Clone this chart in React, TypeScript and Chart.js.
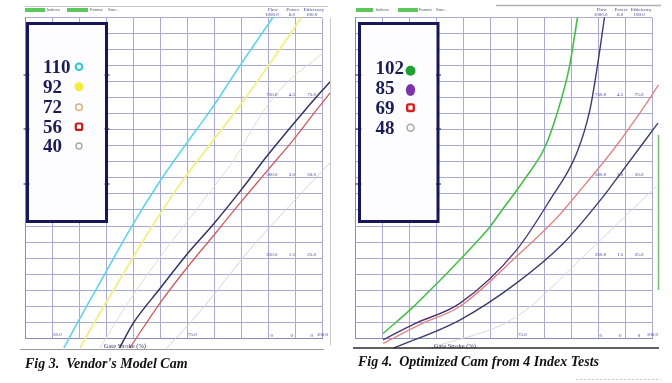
import React, { useEffect, useRef } from "react";
import { Chart, registerables } from "chart.js";
Chart.register(...registerables);

type Pt = [number, number];

// ---------------- shared axis / scale labels ----------------
const scaleHeaders = ["Flow", "Power", "Efficiency"];
const flowLabels = ["1000.0", "750.0", "500.0", "250.0", "0"];
const powerLabels = ["6.0", "4.5", "3.0", "1.5", "0"];
const efficiencyLabels = ["100.0", "75.0", "50.0", "25.0", "0"];
const labelRowValues = [1000, 750, 500, 250, 0];
const axisTitle = "Gate Stroke (%)";

// ---------------- Fig 3: vendor's model cam ----------------
const vendorLegend = ["110", "92", "72", "56", "40"];
const vendorStrokeLabels = ["50.0", "75.0", "100.0"];
const vendorStrokeValues = [50, 75, 100];
const vendorCam110: Pt[] = [[52.2, -30], [54.7, 48], [59.9, 204], [64.9, 353], [69.8, 485], [74.8, 605], [79.4, 712], [85, 855], [90.9, 1000]];
const vendorCam92: Pt[] = [[55.2, -30], [57.8, 48], [63.3, 204], [68.7, 353], [73.9, 485], [79.3, 605], [84.2, 712], [90, 848], [96.2, 1000]];
const vendorCam72: Pt[] = [[58.9, -30], [64.4, 119], [70.7, 269], [77.4, 416], [83.9, 562], [88.1, 681], [92.2, 775], [100.2, 890]];
const vendorCamMain: Pt[] = [[62.5, -30], [65, 46], [70, 155], [75, 262], [80, 358], [85, 462], [90, 572], [96.85, 711], [101.5, 800]];
const vendorCam56: Pt[] = [[64.4, -30], [70, 110], [75, 220], [80, 322], [85, 425], [90, 525], [95, 625], [99, 712], [101.5, 765]];
const vendorCam40: Pt[] = [[71.3, -30], [78, 95], [86.1, 266], [93, 395], [101.5, 547]];

// ---------------- Fig 4: optimized cam ----------------
const optLegend = ["102", "85", "69", "48"];
const optStrokeLabels = ["75.0", "100.0"];
const optStrokeValues = [75, 100];
const optCam102: Pt[] = [[50.2, 15], [55.8, 98], [59.5, 160], [62, 202], [67.5, 300], [70, 348], [72.2, 399], [76.5, 498], [80.2, 597], [82.6, 711], [84.7, 846], [86.2, 1000]];
const optCam85: Pt[] = [[50.2, -5], [56, 45], [64.4, 109], [74.9, 275], [81.1, 431], [86.05, 577], [88.5, 712], [89.9, 850], [91.2, 1000]];
const optCam69: Pt[] = [[50.2, -16], [57.3, 45], [64.4, 99], [74.9, 255], [82.35, 375], [85.9, 445], [93.3, 598], [98.4, 718], [101.2, 790]];
const optCamMain: Pt[] = [[52.1, -31], [64.4, 57], [74.9, 172], [83.6, 296], [90.4, 430], [93.3, 494], [101.1, 671]];
const optCam48: Pt[] = [[58.9, -31], [74.9, 67], [87.3, 255], [95.3, 385], [100.8, 473]];

interface Series { data: Pt[]; color: string; width: number; smooth: boolean }
interface Marker { kind: "ring" | "dot" | "ellipse" | "square"; color: string; r: number; lw: number; y: number }
interface PanelCfg {
  series: Series[];
  legend: string[];
  markers: Marker[];
  box: { x: number; y: number; w: number; h: number };
  textX: number;
  baselines: number[];
  markerX: number;
  columnsX: number[];
  strokeLabels: string[];
  strokeValues: number[];
  caption: string;
  captionX: number;
  captionY: number;
  padding: { left: number; right: number; top: number; bottom: number };
  decorate: (ctx: CanvasRenderingContext2D) => void;
}

const GRID = "#a9a9d2";
const LABEL = "#3d3d88";
const NAVY = "#16165a";

function drawTabs(ctx: CanvasRenderingContext2D, tabs: [number, number][], texts: [string, number][]) {
  ctx.fillStyle = "#5cc85c";
  tabs.forEach(([x, w]) => ctx.fillRect(x, 8, w, 4));
  ctx.fillStyle = "#555";
  ctx.font = "4px 'Liberation Sans'";
  ctx.textBaseline = "middle";
  ctx.textAlign = "left";
  texts.forEach(([t, x]) => ctx.fillText(t, x, 10));
}

function overlay(p: PanelCfg) {
  return {
    id: "overlay",
    afterDraw(chart: any) {
      const ctx: CanvasRenderingContext2D = chart.ctx;
      const xs = chart.scales.x;
      const ys = chart.scales.y;
      const { top, bottom, right } = chart.chartArea;
      ctx.save();
      // value columns
      ctx.fillStyle = LABEL;
      ctx.font = "5px 'Liberation Serif'";
      ctx.textAlign = "center";
      ctx.textBaseline = "bottom";
      const cols = [flowLabels, powerLabels, efficiencyLabels];
      cols.forEach((labels, c) => {
        const cx = xs.getPixelForValue(p.columnsX[c]);
        labels.forEach((t, r) => ctx.fillText(t, cx, ys.getPixelForValue(labelRowValues[r]) - 0.5));
        ctx.fillText(scaleHeaders[c], cx + (c === 2 ? 2 : 1), top - 5);
      });
      // stroke labels
      p.strokeLabels.forEach((t, i) => {
        const v = p.strokeValues[i];
        const px = xs.getPixelForValue(v);
        ctx.textAlign = v === 100 ? "right" : "left";
        ctx.fillText(t, v === 100 ? right + 6 : px + 1, bottom - 1);
      });
      ctx.textAlign = "center";
      ctx.fillStyle = "#333366";
      ctx.font = "6.5px 'Liberation Serif'";
      ctx.textBaseline = "alphabetic";
      ctx.fillText(axisTitle, xs.getPixelForValue(63.5), bottom + 9.5);

      // legend box
      const b = p.box;
      ctx.fillStyle = "#fdfdff";
      ctx.fillRect(b.x, b.y, b.w, b.h);
      ctx.strokeStyle = NAVY;
      ctx.lineWidth = 3;
      ctx.strokeRect(b.x, b.y, b.w, b.h);
      ctx.lineWidth = 1;
      [75, 129, 184].forEach((ty) => {
        ctx.beginPath();
        ctx.moveTo(b.x - 4, ty);
        ctx.lineTo(b.x + 2, ty);
        ctx.moveTo(b.x + b.w - 2, ty);
        ctx.lineTo(b.x + b.w + 3, ty);
        ctx.stroke();
      });
      ctx.fillStyle = "#1c1c55";
      ctx.font = "bold 19px 'Liberation Serif'";
      ctx.textAlign = "left";
      p.legend.forEach((t, i) => ctx.fillText(t, p.textX, p.baselines[i]));
      p.markers.forEach((m) => {
        ctx.beginPath();
        if (m.kind === "ellipse") ctx.ellipse(p.markerX, m.y, m.r * 0.78, m.r, 0, 0, Math.PI * 2);
        else if (m.kind === "square") ctx.roundRect(p.markerX - m.r, m.y - m.r, m.r * 2, m.r * 2, 1.5);
        else ctx.arc(p.markerX, m.y, m.r, 0, Math.PI * 2);
        if (m.kind === "dot" || m.kind === "ellipse") {
          ctx.fillStyle = m.color;
          ctx.fill();
        } else {
          ctx.strokeStyle = m.color;
          ctx.lineWidth = m.lw;
          ctx.stroke();
        }
      });

      // caption
      ctx.fillStyle = "#111";
      ctx.font = "italic bold 14px 'Liberation Serif'";
      ctx.textAlign = "left";
      ctx.fillText(p.caption, p.captionX, p.captionY);
      p.decorate(ctx);
      ctx.restore();
    },
  };
}

const leftPanel: PanelCfg = {
  series: [
    { data: vendorCam110, color: "#5fd6e8", width: 1.6, smooth: true },
    { data: vendorCam92, color: "#f3f08a", width: 2, smooth: true },
    { data: vendorCam72, color: "#e6dcc4", width: 1, smooth: true },
    { data: vendorCamMain, color: "#34345e", width: 1.5, smooth: true },
    { data: vendorCam56, color: "#d25a5a", width: 1.3, smooth: true },
    { data: vendorCam40, color: "#d4d4d4", width: 1, smooth: true },
  ],
  legend: vendorLegend,
  markers: [
    { kind: "ring", color: "#25c8d8", r: 3.3, lw: 2, y: 66.7 },
    { kind: "dot", color: "#f2ee3a", r: 4.5, lw: 0, y: 86.7 },
    { kind: "ring", color: "#d4b27a", r: 3.3, lw: 1.5, y: 107.3 },
    { kind: "square", color: "#cc1a1a", r: 3.2, lw: 2.2, y: 126.7 },
    { kind: "ring", color: "#a8a8a8", r: 3, lw: 1.4, y: 146 },
  ],
  box: { x: 27.5, y: 23.5, w: 79, h: 198 },
  textX: 43,
  baselines: [73, 93, 113, 133, 152],
  markerX: 79,
  columnsX: [90.7, 94.4, 98.1],
  strokeLabels: vendorStrokeLabels,
  strokeValues: vendorStrokeValues,
  caption: "Fig 3.  Vendor's Model Cam",
  captionX: 25,
  captionY: 368,
  padding: { left: 25, right: 14, top: 17.5, bottom: 44.7 },
  decorate: (ctx) => {
    ctx.strokeStyle = "#c8c8c8";
    ctx.lineWidth = 1;
    ctx.beginPath();
    ctx.moveTo(25, 6.5);
    ctx.lineTo(328, 6.5);
    ctx.moveTo(330.5, 18);
    ctx.lineTo(330.5, 345);
    ctx.stroke();
    ctx.strokeStyle = "#9a9a9a";
    ctx.beginPath();
    ctx.moveTo(20, 349.5);
    ctx.lineTo(324, 349.5);
    ctx.stroke();
    drawTabs(ctx, [[25, 20], [67, 21]], [["Indices", 47], ["Format", 90], ["Size...", 108]]);
  },
};

const rightPanel: PanelCfg = {
  series: [
    { data: optCam102, color: "#45c045", width: 1.6, smooth: true },
    { data: optCam85, color: "#4d3570", width: 1.4, smooth: true },
    { data: optCam69, color: "#e38585", width: 1.4, smooth: true },
    { data: optCamMain, color: "#3d3d6b", width: 1.4, smooth: true },
    { data: optCam48, color: "#d8d8d8", width: 1, smooth: true },
  ],
  legend: optLegend,
  markers: [
    { kind: "dot", color: "#1fa22f", r: 5, lw: 0, y: 70.7 },
    { kind: "ellipse", color: "#7a35a8", r: 6, lw: 0, y: 90 },
    { kind: "square", color: "#d42020", r: 3.3, lw: 2.4, y: 107.7 },
    { kind: "ring", color: "#a8a8a8", r: 3.5, lw: 1.5, y: 127.7 },
  ],
  box: { x: 23.5, y: 23.5, w: 78.5, h: 198 },
  textX: 39.5,
  baselines: [74, 94, 113.5, 133.5],
  markerX: 74.5,
  columnsX: [90.5, 94.1, 97.6],
  strokeLabels: optStrokeLabels,
  strokeValues: optStrokeValues,
  caption: "Fig 4.  Optimized Cam from 4 Index Tests",
  captionX: 22,
  captionY: 366,
  padding: { left: 19, right: 20, top: 17.5, bottom: 44.7 },
  decorate: (ctx) => {
    ctx.strokeStyle = "#b0b0b0";
    ctx.lineWidth = 1.5;
    ctx.beginPath();
    ctx.moveTo(160, 5.5);
    ctx.lineTo(325, 5.5);
    ctx.stroke();
    ctx.strokeStyle = "#2a2a2a";
    ctx.lineWidth = 1.6;
    ctx.beginPath();
    ctx.moveTo(17, 348);
    ctx.lineTo(323, 348);
    ctx.stroke();
    ctx.strokeStyle = "#6cc46c";
    ctx.lineWidth = 1.5;
    ctx.beginPath();
    ctx.moveTo(322.5, 135);
    ctx.lineTo(322.5, 290);
    ctx.stroke();
    ctx.strokeStyle = "#c8c8c8";
    ctx.lineWidth = 1;
    ctx.setLineDash([2, 2]);
    ctx.beginPath();
    ctx.moveTo(240, 379.5);
    ctx.lineTo(325, 379.5);
    ctx.stroke();
    ctx.setLineDash([]);
    drawTabs(ctx, [[20, 17], [62, 20]], [["Indices", 40], ["Format", 83], ["Size...", 100]]);
  },
};

function buildChart(canvas: HTMLCanvasElement, p: PanelCfg) {
  return new Chart(canvas, {
    type: "line",
    data: {
      datasets: p.series.map((s) => ({
        data: s.data.map(([x, y]) => ({ x, y })),
        borderColor: s.color,
        borderWidth: s.width,
        pointRadius: 0,
        fill: false,
        tension: 0,
        cubicInterpolationMode: s.smooth ? "monotone" : "default",
        clip: false,
      })),
    },
    options: {
      animation: false,
      responsive: false,
      maintainAspectRatio: false,
      events: [],
      layout: { padding: p.padding, autoPadding: false },
      plugins: { legend: { display: false }, tooltip: { enabled: false } },
      scales: {
        x: {
          type: "linear",
          min: 45,
          max: 100,
          ticks: { display: false, stepSize: 5, maxTicksLimit: 100 },
          grid: { color: GRID, lineWidth: 1, drawTicks: false },
          border: { color: "#8a8ab8", width: 1 },
        },
        y: {
          type: "linear",
          min: 0,
          max: 1000,
          ticks: { display: false, stepSize: 50, maxTicksLimit: 100 },
          grid: { color: GRID, lineWidth: 1, drawTicks: false },
          border: { color: "#8a8ab8", width: 1 },
        },
      },
    } as any,
    plugins: [overlay(p)],
  } as any);
}

export default function App() {
  const leftRef = useRef<HTMLCanvasElement>(null);
  const rightRef = useRef<HTMLCanvasElement>(null);
  useEffect(() => {
    const a = buildChart(leftRef.current!, leftPanel);
    const b = buildChart(rightRef.current!, rightPanel);
    return () => {
      a.destroy();
      b.destroy();
    };
  }, []);
  return (
    <div style={{ position: "fixed", left: 0, top: 0, width: 672, height: 383, background: "#fff" }}>
      <canvas ref={leftRef} width={336} height={383} style={{ position: "absolute", left: 0, top: 0, width: 336, height: 383 }} />
      <canvas ref={rightRef} width={336} height={383} style={{ position: "absolute", left: 336, top: 0, width: 336, height: 383 }} />
    </div>
  );
}
